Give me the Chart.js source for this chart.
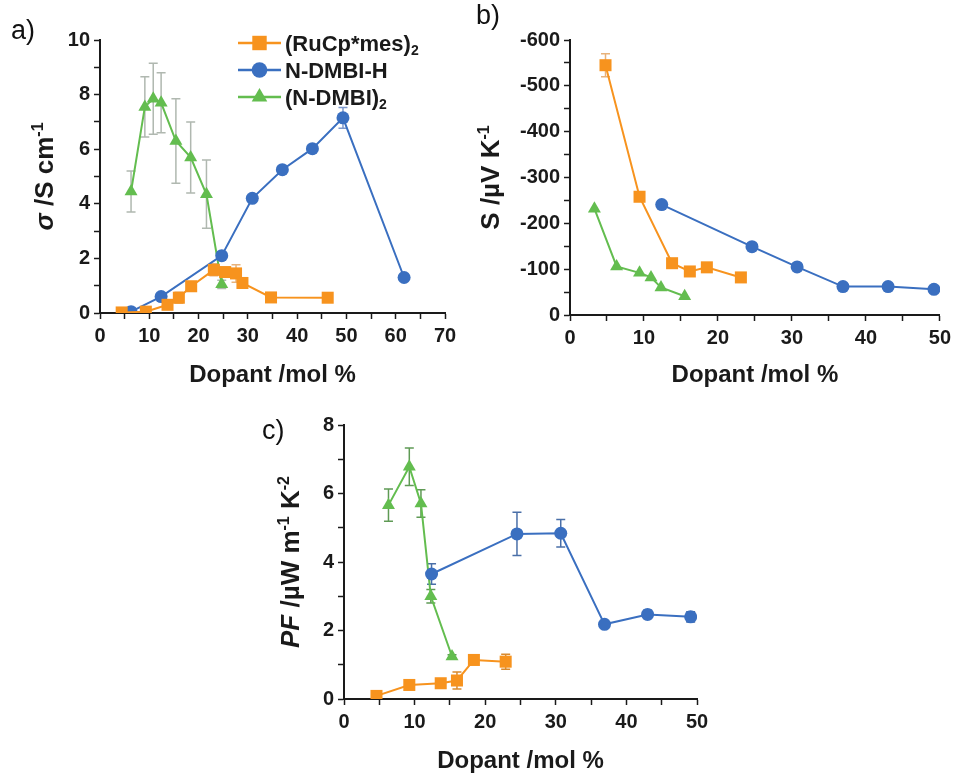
<!DOCTYPE html>
<html>
<head>
<meta charset="utf-8">
<script src="https://cdn.jsdelivr.net/npm/chart.js@4.4.1/dist/chart.umd.min.js"></script>
<style>
  body { margin: 0; background: #fff; width: 956px; height: 776px; position: relative; overflow: hidden; font-family: "Liberation Sans", Arial, sans-serif; }
  canvas { position: absolute; }
  .tag { position: absolute; font-size: 27px; line-height: 1; color: #111; }
</style>
</head>
<body>
<canvas id="chartA" width="470" height="400" style="left:0;top:0"></canvas>
<canvas id="chartB" width="486" height="400" style="left:470px;top:0"></canvas>
<canvas id="chartC" width="470" height="376" style="left:250px;top:400px"></canvas>
<div class="tag" style="left:11px;top:17px">a)</div>
<div class="tag" style="left:476px;top:2px">b)</div>
<div class="tag" style="left:262px;top:417px">c)</div>
<script>
// a) conductivity
const ruA_x = [4.4, 9.3, 13.7, 16.0, 18.5, 23.1, 25.4, 27.6, 28.9, 34.7, 46.2];
const ruA_y = [0.02, 0.05, 0.3, 0.56, 0.98, 1.58, 1.5, 1.45, 1.1, 0.57, 0.56];
const ruA_err = [0, 0, 0.08, 0.2, 0.1, 0.22, 0.15, 0.32, 0.1, 0, 0];
const blA_x = [6.3, 12.4, 24.7, 30.9, 37.0, 43.1, 49.3, 61.7];
const blA_y = [0.05, 0.6, 2.1, 4.2, 5.25, 6.02, 7.15, 1.3];
const blA_err = [0, 0.1, 0.1, 0.1, 0.1, 0.1, 0.38, 0.1];
const grA_x = [6.3, 9.1, 10.8, 12.4, 15.4, 18.4, 21.6, 24.7];
const grA_y = [4.45, 7.55, 7.85, 7.7, 6.3, 5.7, 4.35, 1.05];
const grA_err = [0.75, 1.1, 1.3, 1.1, 1.55, 1.3, 1.25, 0.15];

// b) Seebeck coefficient
const ruB_x = [4.8, 9.4, 13.8, 16.2, 18.5, 23.1];
const ruB_y = [-545, -258, -113, -95, -104, -82];
const ruB_err = [25, 8, 5, 5, 5, 5];
const blB_x = [12.4, 24.6, 30.7, 36.9, 43.0, 49.2];
const blB_y = [-241, -149, -105, -62, -62, -56];
const grB_x = [3.3, 6.3, 9.4, 10.95, 12.3, 15.5];
const grB_y = [-232, -106, -92, -82, -60, -41];

// c) power factor
const ruC_x = [4.6, 9.25, 13.7, 16.0, 18.4, 22.9];
const ruC_y = [0.09, 0.41, 0.46, 0.54, 1.14, 1.09];
const ruC_err = [0.03, 0.05, 0.05, 0.25, 0.08, 0.22];
const blC_x = [12.4, 24.5, 30.7, 36.9, 43.0, 49.1];
const blC_y = [3.65, 4.82, 4.84, 2.18, 2.47, 2.4];
const blC_err = [0.3, 0.63, 0.4, 0.1, 0.12, 0.15];
const grC_x = [6.3, 9.25, 10.9, 12.3, 15.3];
const grC_y = [5.66, 6.78, 5.71, 3.0, 1.24];
const grC_err = [0.47, 0.55, 0.4, 0.2, 0.05];

const seriesNames = ["(RuCp*mes)2", "N-DMBI-H", "(N-DMBI)2"];

const ink = "#1a1a1a";
const orange = "#f7931e";
const blue = "#3a6fc0";
const green = "#63bd4f";
const fam = '"Liberation Sans", Arial, sans-serif';

function drawRuns(ctx, runs, size, align) {
  const fontFor = r => `${r.italic ? "italic " : ""}bold ${r.sup || r.sub ? Math.round(size * 0.62) : size}px ${fam}`;
  let total = 0;
  runs.forEach(r => { ctx.font = fontFor(r); total += ctx.measureText(r.t).width; });
  let x = align === "center" ? -total / 2 : 0;
  ctx.textBaseline = "alphabetic";
  ctx.textAlign = "left";
  runs.forEach(r => {
    ctx.font = fontFor(r);
    let dy = size * 0.36;
    if (r.sup) dy -= size * 0.38;
    if (r.sub) dy += size * 0.18;
    ctx.fillText(r.t, x, dy);
    x += ctx.measureText(r.t).width;
  });
}

function drawMarker(ctx, style, x, y, r, color) {
  ctx.fillStyle = color;
  ctx.beginPath();
  if (style === "rect") {
    const s = r * Math.SQRT1_2;
    ctx.rect(x - s, y - s, 2 * s, 2 * s);
  } else if (style === "triangle") {
    ctx.moveTo(x, y - r);
    ctx.lineTo(x + r * 0.866, y + r / 2);
    ctx.lineTo(x - r * 0.866, y + r / 2);
    ctx.closePath();
  } else {
    ctx.arc(x, y, r, 0, Math.PI * 2);
  }
  ctx.fill();
}

function yTitle(x, runs) {
  return {
    id: "yTitle",
    afterDraw(chart) {
      const { ctx, chartArea } = chart;
      ctx.save();
      ctx.fillStyle = ink;
      ctx.translate(x, (chartArea.top + chartArea.bottom) / 2);
      ctx.rotate(-Math.PI / 2);
      drawRuns(ctx, runs, 26, "center");
      ctx.restore();
    },
  };
}

const errorBars = {
  id: "errorBars",
  beforeDatasetsDraw(chart) {
    const { ctx, scales: { x, y } } = chart;
    chart.data.datasets.forEach(ds => {
      if (!ds.errors) return;
      ctx.save();
      ctx.strokeStyle = ds.errorColor;
      ctx.lineWidth = 1.5;
      ds.data.forEach((p, j) => {
        const e = ds.errors[j];
        if (!e) return;
        const px = x.getPixelForValue(p.x);
        const y1 = y.getPixelForValue(p.y + e);
        const y2 = y.getPixelForValue(p.y - e);
        ctx.beginPath();
        ctx.moveTo(px, y1); ctx.lineTo(px, y2);
        ctx.moveTo(px - 4.5, y1); ctx.lineTo(px + 4.5, y1);
        ctx.moveTo(px - 4.5, y2); ctx.lineTo(px + 4.5, y2);
        ctx.stroke();
      });
      ctx.restore();
    });
  },
};

const legendRuns = [
  [{ t: "(RuCp*mes)" }, { t: "2", sub: true }],
  [{ t: "N-DMBI-H" }],
  [{ t: "(N-DMBI)" }, { t: "2", sub: true }],
];

const legendA = {
  id: "legendA",
  afterDraw(chart) {
    const { ctx } = chart;
    chart.data.datasets.forEach((ds, i) => {
      const y = 43 + i * 27;
      ctx.save();
      ctx.strokeStyle = ds.borderColor;
      ctx.lineWidth = 2.5;
      ctx.beginPath();
      ctx.moveTo(238, y); ctx.lineTo(281, y);
      ctx.stroke();
      drawMarker(ctx, ds.pointStyle, 259.5, y, ds.pointRadius * 1.2, ds.backgroundColor);
      ctx.fillStyle = ink;
      ctx.translate(285, y);
      drawRuns(ctx, legendRuns[i], 22, "left");
      ctx.restore();
    });
  },
};

function series(label, xs, ys, errs, color, style, radius, errColor) {
  return {
    label,
    data: xs.map((x, i) => ({ x, y: ys[i] })),
    errors: errs,
    errorColor: errColor,
    borderColor: color,
    backgroundColor: color,
    pointBackgroundColor: color,
    pointBorderColor: color,
    pointBorderWidth: 0,
    pointStyle: style,
    pointRadius: radius,
    borderWidth: 2,
    showLine: true,
  };
}

const tickFont = { family: fam, size: 20, weight: "bold" };
const titleFont = { family: fam, size: 24, weight: "bold" };

function axisOptions(cfg) {
  return {
    responsive: false,
    animation: false,
    layout: { padding: cfg.padding },
    plugins: { legend: { display: false }, tooltip: { enabled: false } },
    scales: {
      x: {
        type: "linear",
        min: 0,
        max: cfg.xMax,
        afterFit: s => { s.height = cfg.xHeight; },
        afterBuildTicks: s => { s.ticks = cfg.xTicks.map(v => ({ value: v })); },
        ticks: {
          callback: v => (v % 10 === 0 ? v : ""),
          font: tickFont, color: ink, padding: 5, maxRotation: 0, autoSkip: false,
        },
        grid: { drawOnChartArea: false, tickLength: 6, tickColor: ink, tickWidth: 1.5 },
        border: { color: ink, width: 2 },
        title: { display: true, text: "Dopant /mol %", font: titleFont, color: ink, padding: { top: 0, bottom: cfg.titlePad } },
      },
      y: {
        type: "linear",
        min: cfg.yMin,
        max: cfg.yMax,
        reverse: !!cfg.reverse,
        afterFit: s => { s.width = cfg.yWidth; },
        afterBuildTicks: s => { s.ticks = cfg.yTicks.map(v => ({ value: v })); },
        ticks: {
          callback: v => (v % cfg.yLabelEvery === 0 ? String(v) : ""),
          font: tickFont, color: ink, padding: 4, autoSkip: false,
        },
        grid: { drawOnChartArea: false, tickLength: 6, tickColor: ink, tickWidth: 1.5 },
        border: { color: ink, width: 2 },
      },
    },
  };
}

const xTicks70 = [0, 5, 10, 15, 20, 25, 30, 35, 40, 45, 50, 55, 60, 65, 70];
const xTicks50 = [0, 5, 10, 15, 20, 25, 30, 35, 40, 45, 50];

new Chart(document.getElementById("chartA"), {
  type: "scatter",
  data: {
    datasets: [
      series(seriesNames[0], ruA_x, ruA_y, ruA_err, orange, "rect", 8.5, "#e8b27a"),
      series(seriesNames[1], blA_x, blA_y, blA_err, blue, "circle", 6.5, "#7d98cc"),
      series(seriesNames[2], grA_x, grA_y, grA_err, green, "triangle", 7.5, "#b0b8b0"),
    ],
  },
  options: axisOptions({
    padding: { top: 40, right: 25, left: 0, bottom: 0 },
    xMax: 70, xHeight: 87, xTicks: xTicks70, titlePad: 10,
    yMin: 0, yMax: 10, yWidth: 100, yTicks: [0, 1, 2, 3, 4, 5, 6, 7, 8, 9, 10], yLabelEvery: 2,
  }),
  plugins: [errorBars, legendA, yTitle(44, [{ t: "σ", italic: true }, { t: " /S cm" }, { t: "-1", sup: true }])],
});

new Chart(document.getElementById("chartB"), {
  type: "scatter",
  data: {
    datasets: [
      series(seriesNames[0], ruB_x, ruB_y, ruB_err, orange, "rect", 8.5, "#e8b27a"),
      series(seriesNames[1], blB_x, blB_y, null, blue, "circle", 6.5, blue),
      series(seriesNames[2], grB_x, grB_y, null, green, "triangle", 7.5, green),
    ],
  },
  options: axisOptions({
    padding: { top: 40, right: 14, left: 0, bottom: 0 },
    xMax: 50, xHeight: 85, xTicks: xTicks50, titlePad: 10,
    yMin: -600, yMax: 0, reverse: true, yWidth: 100,
    yTicks: [0, -50, -100, -150, -200, -250, -300, -350, -400, -450, -500, -550, -600], yLabelEvery: 100,
  }),
  plugins: [errorBars, yTitle(20, [{ t: "S /µV K" }, { t: "-1", sup: true }])],
});

new Chart(document.getElementById("chartC"), {
  type: "scatter",
  data: {
    datasets: [
      series(seriesNames[0], ruC_x, ruC_y, ruC_err, orange, "rect", 8.5, "#d98a2e"),
      series(seriesNames[1], blC_x, blC_y, blC_err, blue, "circle", 6.5, "#4a6fa8"),
      series(seriesNames[2], grC_x, grC_y, grC_err, green, "triangle", 7.5, "#5f9a55"),
    ],
  },
  options: axisOptions({
    padding: { top: 25, right: 23, left: 0, bottom: 0 },
    xMax: 50, xHeight: 77, xTicks: xTicks50, titlePad: 0,
    yMin: 0, yMax: 8, yWidth: 94, yTicks: [0, 1, 2, 3, 4, 5, 6, 7, 8], yLabelEvery: 2,
  }),
  plugins: [errorBars, yTitle(40, [{ t: "PF", italic: true }, { t: " /µW m" }, { t: "-1", sup: true }, { t: " K" }, { t: "-2", sup: true }])],
});
</script>
</body>
</html>
